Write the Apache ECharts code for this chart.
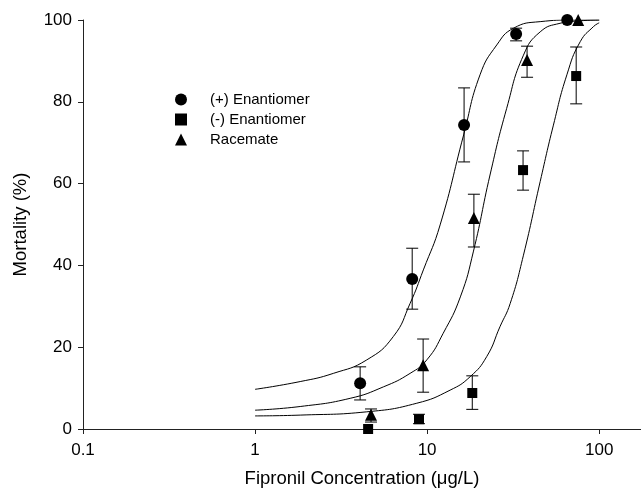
<!DOCTYPE html>
<html>
<head>
<meta charset="utf-8">
<script src="https://cdn.jsdelivr.net/npm/echarts@6/dist/echarts.min.js"></script>
<style>
  html, body { margin: 0; padding: 0; background: #fff; }
  #chart { width: 641px; height: 499px; }
</style>
</head>
<body>
<div id="chart"></div>
<script>
// measured points (concentration, mortality, error bar low, error bar high)
const plusX = [4.08, 8.19, 16.4, 32.9, 65.2]
const plusY = [11.2, 36.7, 74.3, 96.6, 100]
const plusLo = [7.1, 29.3, 65.3, 94.9, 100]
const plusHi = [15.2, 44.2, 83.4, 98.0, 100]

const minusX = [4.54, 8.97, 18.3, 36.1, 73.5]
const minusY = [0, 2.4, 8.8, 63.3, 86.3]
const minusLo = [0, 1.3, 4.8, 58.4, 79.5]
const minusHi = [0, 3.6, 13.0, 68.0, 93.4]

const raceX = [4.72, 9.48, 18.7, 38.1, 75.5]
const raceY = [3.5, 15.6, 51.6, 90.2, 100]
const raceLo = [1.7, 9.0, 44.5, 86.0, 100]
const raceHi = [4.9, 22.0, 57.4, 93.6, 100]

// fitted curves
const plusCurveX = [1.0, 1.83, 2.85, 4.46, 6.36, 7.96, 9.51, 11.9, 16.3, 20.3, 25.4, 31.8, 45.4, 71.0, 100]
const plusCurveY = [9.7, 11.6, 13.6, 16.9, 22.6, 30.7, 38.9, 49.9, 71.9, 86.6, 93.9, 98.0, 99.6, 100, 100]

const raceCurveX = [1.0, 1.83, 3.57, 5.57, 7.96, 9.96, 12.4, 15.6, 18.6, 23.2, 29.0, 36.3, 45.4, 59.3, 77.6, 100]
const raceCurveY = [4.6, 5.5, 7.5, 10.3, 13.6, 16.9, 23.4, 32.3, 43.5, 62.1, 78.4, 91.4, 97.1, 99.2, 99.8, 100]

const minusCurveX = [1.0, 1.83, 4.46, 8.71, 13.6, 17.8, 22.2, 26.5, 30.4, 36.3, 45.4, 54.2, 64.9, 77.6, 92.7, 100]
const minusCurveY = [3.2, 3.4, 4.2, 6.3, 9.5, 12.8, 17.7, 25.0, 30.7, 42.5, 60.5, 74.3, 86.6, 94.7, 98.4, 99.3]

const xTicks = [0.1, 1, 10, 100]

const font = 'Liberation Sans, Arial, sans-serif'

function zip(a, b) {
  let out = []
  for (let i = 0; i < a.length; i++) out.push([a[i], b[i]])
  return out
}

function zip3(a, b, c) {
  let out = []
  for (let i = 0; i < a.length; i++) out.push([a[i], b[i], c[i]])
  return out
}

function errorBars(x, lo, hi) {
  return {
    type: 'custom',
    silent: true,
    z: 3,
    data: zip3(x, lo, hi),
    renderItem: function (params, api) {
      const top = api.coord([api.value(0), api.value(2)])
      const bot = api.coord([api.value(0), api.value(1)])
      if (Math.abs(bot[1] - top[1]) < 0.5) return null
      const w = 6
      const style = { stroke: '#000', lineWidth: 1 }
      return {
        type: 'group',
        children: [
          { type: 'line', shape: { x1: top[0], y1: top[1], x2: bot[0], y2: bot[1] }, style: style },
          { type: 'line', shape: { x1: top[0] - w, y1: top[1], x2: top[0] + w, y2: top[1] }, style: style },
          { type: 'line', shape: { x1: bot[0] - w, y1: bot[1], x2: bot[0] + w, y2: bot[1] }, style: style }
        ]
      }
    }
  }
}

function curve(x, y) {
  return {
    type: 'line',
    data: zip(x, y),
    smooth: 0.5,
    showSymbol: false,
    silent: true,
    z: 2,
    lineStyle: { color: '#000', width: 1 }
  }
}

function points(name, symbol, size, x, y) {
  return {
    name: name,
    type: 'scatter',
    symbol: symbol,
    symbolSize: size,
    data: zip(x, y),
    z: 4,
    itemStyle: { color: '#000', opacity: 1 }
  }
}

const chart = echarts.init(document.getElementById('chart'), null, { renderer: 'canvas' })

chart.setOption({
  animation: false,
  backgroundColor: '#fff',
  grid: { left: 83, right: 0, top: 20, bottom: 70, containLabel: false },
  legend: {
    orient: 'vertical',
    left: 170,
    top: 87,
    itemWidth: 12,
    itemHeight: 12,
    itemGap: 5,
    textStyle: { fontFamily: font, fontSize: 15, lineHeight: 12, color: '#000', padding: [0, 0, 0, 18] },
    data: [
      { name: '(+) Enantiomer', icon: 'circle' },
      { name: '(-) Enantiomer', icon: 'rect' },
      { name: 'Racemate', icon: 'triangle' }
    ]
  },
  xAxis: {
    type: 'log',
    logBase: 10,
    min: 0.1,
    max: 175,
    name: 'Fipronil Concentration (μg/L)',
    nameLocation: 'middle',
    nameGap: 40,
    nameTextStyle: { fontFamily: font, fontSize: 18.5, color: '#000' },
    axisLine: { lineStyle: { color: '#222', width: 1 } },
    axisTick: { show: true, length: 5, customValues: xTicks, lineStyle: { color: '#222' } },
    axisLabel: { customValues: xTicks, margin: 13, fontFamily: font, fontSize: 17, color: '#000',
      formatter: function (v) { return String(v) } },
    splitLine: { show: false },
    minorTick: { show: false }
  },
  yAxis: {
    type: 'value',
    min: 0,
    max: 100,
    interval: 20,
    name: 'Mortality (%)',
    nameLocation: 'middle',
    nameGap: 53,
    nameTextStyle: { fontFamily: font, fontSize: 18.5, color: '#000' },
    axisLine: { show: true, lineStyle: { color: '#222', width: 1 } },
    axisTick: { show: true, length: 5, lineStyle: { color: '#222' } },
    axisLabel: { margin: 11, fontFamily: font, fontSize: 17, color: '#000' },
    splitLine: { show: false }
  },
  series: [
    curve(plusCurveX, plusCurveY),
    curve(raceCurveX, raceCurveY),
    curve(minusCurveX, minusCurveY),
    errorBars(plusX, plusLo, plusHi),
    errorBars(minusX, minusLo, minusHi),
    errorBars(raceX, raceLo, raceHi),
    points('(+) Enantiomer', 'circle', 12, plusX, plusY),
    points('(-) Enantiomer', 'rect', 10, minusX, minusY),
    points('Racemate', 'triangle', 12, raceX, raceY)
  ]
})
</script>
</body>
</html>
